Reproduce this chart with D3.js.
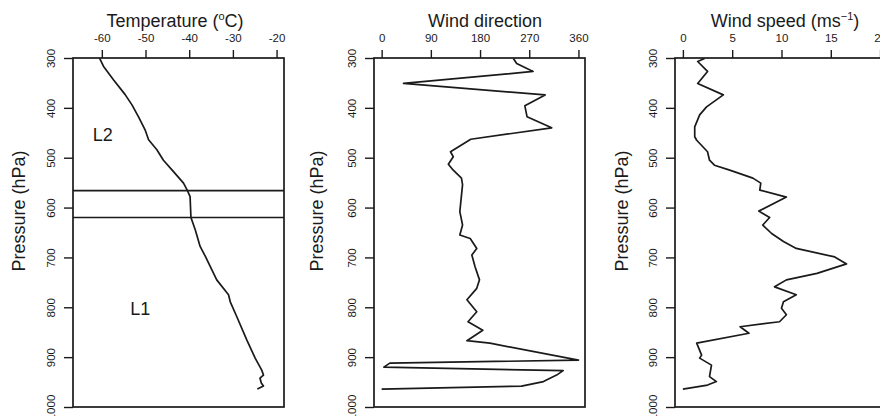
<!DOCTYPE html>
<html>
<head>
<meta charset="utf-8">
<script src="https://cdn.jsdelivr.net/npm/d3@7"></script>
<style>
html,body{margin:0;padding:0;background:#fff;}
svg{display:block;font-family:"Liberation Sans",Arial,Helvetica,sans-serif;}
</style>
</head>
<body>
<svg id="chart" width="880" height="416"></svg>
<script>
// ---- data ----
const pressureTicks = [300, 400, 500, 600, 700, 800, 900, 1000];
const tempTicks = [-60, -50, -40, -30, -20];
const dirTicks = [0, 90, 180, 270, 360];
const speedTicks = [0, 5, 10, 15, 20];

const tempPressure = [301,317,344,373,394,418,444,464,484,505,528,551,566,578,620,645,678,698,745,775,789,819,866,902,926,936,942,952,958,964];
const tempValues   = [-60.5,-59.6,-57.3,-54.7,-53.1,-51.6,-50.1,-49.3,-47.4,-45.9,-43.6,-41.3,-40.4,-39.8,-39.6,-38.6,-37.5,-36.3,-33.7,-31.0,-30.6,-29.1,-26.8,-24.9,-23.4,-23.0,-23.8,-23.5,-23.0,-24.4];

const dirPressure = [301,311,327,351,374,396,418,440,463,488,498,513,525,541,554,608,635,655,662,682,695,719,745,762,785,809,829,846,867,872,906,912,920,927,936,949,958,964];
const dirValues   = [241,247,277,40,299,262,266,311,163,126,131,122,131,146,148,143,148,143,162,174,165,171,179,174,156,174,158,185,156,198,360,15,4,332,320,296,256,0];

const speedPressure = [301,307,327,351,374,398,414,438,458,465,488,505,515,525,541,551,565,579,607,620,635,652,668,682,699,713,732,745,759,775,789,802,815,829,839,852,872,896,902,916,939,949,956,964];
const speedValues   = [2.2,1.5,2.5,1.5,4.1,2.4,1.7,1.2,1.2,1.4,2.5,2.7,3.2,4.75,7.1,7.9,7.8,10.5,7.7,8.8,8.1,9.0,10.2,11.5,15.4,16.6,13.6,10.5,9.3,11.5,10.2,10.0,10.5,9.8,5.8,6.7,1.4,1.9,1.7,2.9,2.7,3.4,2.5,0];

const layerBounds = [566, 620];
const layerLabels = [
  {text: "L2", t: -59.8, p: 466},
  {text: "L1", t: -51.2, p: 815}
];

// ---- layout ----
const svg = d3.select("#chart");
const ink = "#1a1a1a";
const plotTop = 58, plotBottom = 407;
const y = d3.scaleLinear().domain([300, 1000]).range([plotTop, plotBottom]);

const panels = [
  {left: 73, right: 284, domain: [-66.6, -18.3], ticks: tempTicks, pres: tempPressure, vals: tempValues,
   title: "Temperature (", sup: "o", titleEnd: "C)", titleX: 175, ylabX: 25},
  {left: 374, right: 585, domain: [-14, 372], ticks: dirTicks, pres: dirPressure, vals: dirValues,
   title: "Wind direction", titleX: 485, ylabX: 323},
  {left: 675, right: 886, domain: [-0.8, 20.6], ticks: speedTicks, pres: speedPressure, vals: speedValues,
   title: "Wind speed (ms", sup: "\u22121", titleEnd: ")", titleX: 785, ylabX: 628}
];

panels.forEach((P, i) => {
  const x = d3.scaleLinear().domain(P.domain).range([P.left, P.right]);
  P.x = x;
  const g = svg.append("g");

  // x axis (top)
  const xa = g.append("g").attr("transform", `translate(0,${plotTop})`)
    .call(d3.axisTop(x).tickValues(P.ticks).tickSize(8).tickPadding(8).tickFormat(d3.format("d")));
  xa.select(".domain").remove();
  xa.selectAll("line").attr("stroke", ink).attr("stroke-width", 1.4);
  xa.selectAll("text").attr("fill", ink).attr("font-size", 11.5).attr("font-family", null)
    .text(d => d < 0 ? "-" + Math.abs(d) : String(d));

  // y axis (left), rotated labels
  const ya = g.append("g").attr("transform", `translate(${P.left},0)`)
    .call(d3.axisLeft(y).tickValues(pressureTicks).tickSize(9).tickFormat(d3.format("d")));
  ya.select(".domain").remove();
  ya.selectAll("line").attr("stroke", ink).attr("stroke-width", 1.4);
  ya.selectAll("text").attr("fill", ink).attr("font-size", 11.5).attr("font-family", null)
    .attr("x", null).attr("dy", null)
    .attr("text-anchor", "middle")
    .attr("transform", "translate(-18,0) rotate(-90)");

  // frame
  g.append("rect").attr("x", P.left).attr("y", plotTop)
    .attr("width", P.right - P.left).attr("height", plotBottom - plotTop)
    .attr("fill", "none").attr("stroke", ink).attr("stroke-width", 1.7);

  // title
  const t = g.append("text").attr("x", P.titleX).attr("y", 27)
    .attr("text-anchor", "middle").attr("font-size", 18).attr("fill", ink);
  t.append("tspan").text(P.title);
  if (P.sup) {
    t.append("tspan").attr("font-size", 11).attr("dy", -7).text(P.sup);
    t.append("tspan").attr("dy", 7).text(P.titleEnd);
  }

  // y label
  g.append("text").attr("transform", `translate(${P.ylabX},211) rotate(-90)`)
    .attr("text-anchor", "middle").attr("font-size", 18).attr("fill", ink)
    .text("Pressure (hPa)");

  // data line
  const pts = P.pres.map((p, k) => [P.vals[k], p]);
  g.append("path").datum(pts)
    .attr("fill", "none").attr("stroke", ink).attr("stroke-width", 1.7)
    .attr("stroke-linejoin", "round")
    .attr("d", d3.line().x(d => x(d[0])).y(d => y(d[1])));
});

// layer boundaries & labels on temperature panel
const P0 = panels[0];
svg.append("g").selectAll("line").data(layerBounds).join("line")
  .attr("x1", P0.left).attr("x2", P0.right)
  .attr("y1", d => y(d)).attr("y2", d => y(d))
  .attr("stroke", ink).attr("stroke-width", 1.6);

svg.append("g").selectAll("text").data(layerLabels).join("text")
  .attr("x", d => P0.x(d.t)).attr("y", d => y(d.p))
  .attr("text-anchor", "middle").attr("font-size", 18).attr("fill", ink)
  .text(d => d.text);
</script>
</body>
</html>
